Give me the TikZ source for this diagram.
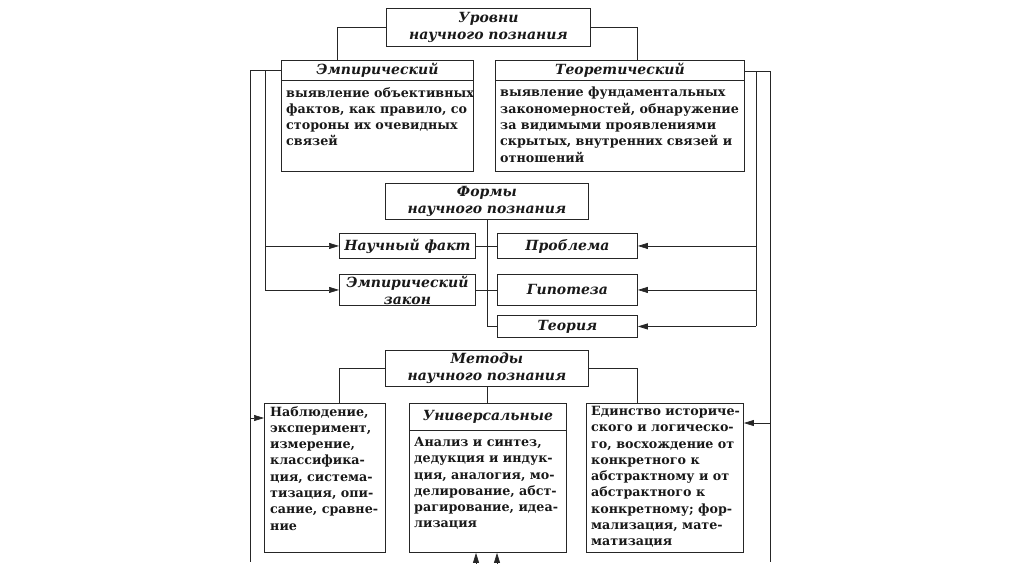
\documentclass[tikz,border=0pt]{standalone}
\usepackage{fontspec}
\setmainfont{DejaVu Serif}
\usetikzlibrary{arrows.meta,calc}
\begin{document}
\begin{tikzpicture}[x=1pt,y=-1pt,
  box/.style={draw=black!85, line width=0.9pt, inner sep=0pt, anchor=north west},
  sep/.style={draw=black!85, line width=0.9pt},
  conn/.style={draw=black!85, line width=0.7pt},
  arr/.style={conn, -{Triangle[length=10pt,width=6pt]}},
  hd/.style={font=\fontsize{14}{17}\selectfont\bfseries\itshape, align=center, inner sep=0pt, text=black!90},
  bd/.style={font=\fontsize{12.7}{16.3}\selectfont\bfseries, align=left, inner sep=0pt, anchor=north west, text=black!90},
]
\useasboundingbox (0,0) rectangle (1024,574);

% --- Levels ---
\node[box, minimum width=204pt, minimum height=38pt, hd] (lev) at (386,8) {Уровни\\научного познания};

\node[box, minimum width=192pt, minimum height=111pt] (emp) at (281,60) {};
\draw[sep] ($(emp.north west)+(0,20)$) -- ($(emp.north east)+(0,20)$);
\node[hd] (emph) at ($(emp.north)+(0,10)$) {Эмпирический};
\node[bd] (empb) at ($(emp.north west)+(5,27)$) {выявление объективных\\фактов, как правило, со\\стороны их очевидных\\связей};

\node[box, minimum width=249pt, minimum height=111pt] (teor) at (495,60) {};
\draw[sep] ($(teor.north west)+(0,20)$) -- ($(teor.north east)+(0,20)$);
\node[hd] (teorh) at ($(teor.north)+(0,10)$) {Теоретический};
\node[bd] (teorb) at ($(teor.north west)+(5,27)$) {выявление фундаментальных\\закономерностей, обнаружение\\за видимыми проявлениями\\скрытых, внутренних связей и\\отношений};

\coordinate (c1) at (337,60);
\coordinate (c2) at (637,60);
\draw[conn] (lev.west) -| (c1);
\draw[conn] (lev.east) -| (c2);

% --- Forms ---
\node[box, minimum width=203pt, minimum height=36pt, hd] (form) at (385,183) {Формы\\научного познания};
\node[box, minimum width=136pt, minimum height=25pt, hd] (fact) at (339,233) {Научный факт};
\node[box, minimum width=136pt, minimum height=31pt, hd] (law) at (339,274) {Эмпирический\\закон};
\node[box, minimum width=140pt, minimum height=25pt, hd] (probl) at (497,233) {Проблема};
\node[box, minimum width=140pt, minimum height=31pt, hd] (hyp) at (497,274) {Гипотеза};
\node[box, minimum width=140pt, minimum height=22pt, hd] (theory) at (497,315) {Теория};

\draw[conn] (form.south) -- (form.south |- theory.west) -- (theory.west);
\draw[conn] (fact.east) -- (probl.west);
\draw[conn] (law.east) -- (hyp.west);

% --- Methods ---
\node[box, minimum width=203pt, minimum height=36pt, hd] (met) at (385,350) {Методы\\научного познания};

\node[box, minimum width=121pt, minimum height=149pt] (nabl) at (264,403) {};
\node[bd] (nablb) at ($(nabl.north west)+(6,3)$) {Наблюдение,\\эксперимент,\\измерение,\\классифика-\\ция, система-\\тизация, опи-\\сание, сравне-\\ние};

\node[box, minimum width=157pt, minimum height=149pt] (univ) at (409,403) {};
\draw[sep] ($(univ.north west)+(0,27)$) -- ($(univ.north east)+(0,27)$);
\node[hd] (univh) at ($(univ.north)+(0,13.5)$) {Универсальные};
\node[bd] (univb) at ($(univ.north west)+(5,34)$) {Анализ и синтез,\\дедукция и индук-\\ция, аналогия, мо-\\делирование, абст-\\рагирование, идеа-\\лизация};

\node[box, minimum width=157pt, minimum height=149pt] (edin) at (586,403) {};
\node[bd] (edinb) at ($(edin.north west)+(5,3)$) {Единство историче-\\ского и логическо-\\го, восхождение от\\конкретного к\\абстрактному и от\\абстрактного к\\конкретному; фор-\\мализация, мате-\\матизация};

\coordinate (m1) at ($(nabl.north west)+(75,0)$);
\coordinate (m2) at ($(edin.north west)+(51,0)$);
\draw[conn] (met.west) -| (m1);
\draw[conn] (met.east) -| (m2);
\draw[conn] (met.south) -- (met.south |- univ.north);

% --- Outer feedback lines ---
\coordinate (Lo) at (250,70);
\coordinate (Li) at (265,70);
\coordinate (Lb) at (250,562);
\draw[conn] (emp.west |- Lo) -- (Lo) -- (Lb);
\draw[conn] (Li) -- (Li |- law.west);
\draw[arr] (Li |- fact.west) -- (fact.west);
\draw[arr] (Li |- law.west) -- (law.west);
\coordinate (na) at ($(nabl.north west)+(0,15)$);
\draw[arr] (Lo |- na) -- (na);

\coordinate (Ro) at (770,71);
\coordinate (Ri) at (756,71);
\coordinate (Rb) at (770,562);
\draw[conn] (teor.east |- Ro) -- (Ro) -- (Rb);
\draw[conn] (Ri) -- (Ri |- theory.east);
\draw[arr] (Ri |- probl.east) -- (probl.east);
\draw[arr] (Ri |- hyp.east) -- (hyp.east);
\draw[arr] (Ri |- theory.east) -- (theory.east);
\coordinate (ea) at ($(edin.north east)+(0,20)$);
\draw[arr] (Ro |- ea) -- (ea);

% --- Bottom arrows ---
\coordinate (b1) at (476,563);
\coordinate (b2) at (497,563);
\draw[arr] (b1) -- (b1 |- univ.south);
\draw[arr] (b2) -- (b2 |- univ.south);
\end{tikzpicture}
\end{document}
